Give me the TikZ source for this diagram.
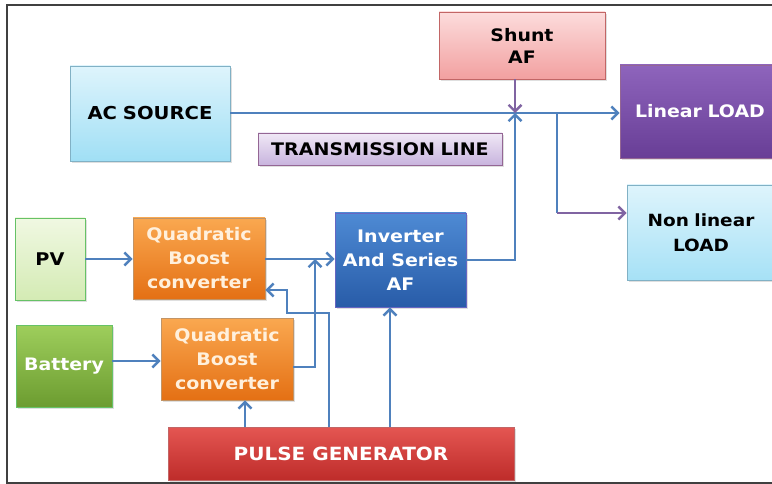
\documentclass[tikz,border=0pt]{standalone}
\usepackage{fontspec}
\setmainfont{DejaVu Sans}[FakeStretch=1.1]
\usetikzlibrary{arrows.meta,shadows}

\definecolor{wire}{RGB}{79,129,189}
\definecolor{pwire}{RGB}{128,100,162}

\tikzset{
  blk/.style={draw=#1!60!black!60, line width=0.8pt, inner sep=0pt, align=center,
    font=\bfseries\fontsize{17.3}{24}\selectfont,
    drop shadow={opacity=0.25, shadow xshift=2pt, shadow yshift=-2pt}},
  tip/.style={-{Straight Barb[length=6.5pt,width=13pt,line width=2.4pt]}},
  arr/.style={draw=wire, line width=2.8pt, tip},
  wireline/.style={draw=wire, line width=2.8pt},
  parr/.style={draw=pwire, line width=2.8pt, tip},
}

\begin{document}
\begin{tikzpicture}[x=1pt, y=-1pt]
\useasboundingbox (0,0) rectangle (772,484);
\fill[white] (0,0) rectangle (772,484);
% outer frame
\draw[black!75, line width=1.2pt] (772,5) -- (7,5) -- (7,483) -- (772,483);

% blocks
\node[blk=cyan, top color={rgb,255:red,222;green,244;blue,252}, bottom color={rgb,255:red,160;green,223;blue,245},
  minimum width=160pt, minimum height=95pt, font=\bfseries\fontsize{17.8}{20}\selectfont] (ac) at (150,113.5) {AC\,\,SOURCE};
\node[blk=violet, top color={rgb,255:red,240;green,232;blue,246}, bottom color={rgb,255:red,200;green,180;blue,222},
  minimum width=244pt, minimum height=32pt, font=\bfseries\fontsize{17.3}{18}\selectfont] (tl) at (380,149) {TRANSMISSION\kern-1pt\ LINE};
\node[blk=red, top color={rgb,255:red,252;green,220;blue,220}, bottom color={rgb,255:red,242;green,160;blue,160},
  minimum width=166pt, minimum height=67pt, font=\bfseries\fontsize{17.2}{22}\selectfont] (sh) at (522,45.5) {Shunt\\AF};
\node[blk=violet, top color={rgb,255:red,142;green,100;blue,188}, bottom color={rgb,255:red,104;green,62;blue,150},
  text=white, minimum width=160pt, minimum height=93pt, font=\bfseries\fontsize{17.2}{20}\selectfont] (lin) at (700,111.5) {Linear\kern-1pt\ LOAD};
\node[blk=cyan, top color={rgb,255:red,222;green,244;blue,252}, bottom color={rgb,255:red,166;green,225;blue,246},
  minimum width=148pt, minimum height=95pt, font=\bfseries\fontsize{16.8}{25}\selectfont] (nl) at (701,232.5) {Non\kern-1pt\ linear\\LOAD};
\node[blk=green, top color={rgb,255:red,240;green,248;blue,226}, bottom color={rgb,255:red,212;green,235;blue,180},
  minimum width=70pt, minimum height=82pt, font=\bfseries\fontsize{17.5}{20}\selectfont] (pv) at (50,259) {PV};
\node[blk=orange, top color={rgb,255:red,250;green,168;blue,80}, bottom color={rgb,255:red,228;green,112;blue,20},
  text={rgb,255:red,255;green,240;blue,220}, minimum width=132pt, minimum height=81pt] (q1) at (199,258.5) {Quadratic\\Boost\\converter};
\node[blk=green, top color={rgb,255:red,158;green,206;blue,92}, bottom color={rgb,255:red,108;green,156;blue,48},
  text=white, minimum width=96pt, minimum height=82pt, font=\bfseries\fontsize{17.2}{20}\selectfont] (bat) at (64,366) {Battery};
\node[blk=orange, top color={rgb,255:red,250;green,168;blue,80}, bottom color={rgb,255:red,228;green,112;blue,20},
  text={rgb,255:red,255;green,240;blue,220}, minimum width=132pt, minimum height=82pt] (q2) at (227,359) {Quadratic\\Boost\\converter};
\node[blk=blue, top color={rgb,255:red,78;green,138;blue,212}, bottom color={rgb,255:red,40;green,92;blue,168},
  text=white, minimum width=131pt, minimum height=94pt] (inv) at (400.5,260) {Inverter\\And Series\\AF};
\node[blk=red, top color={rgb,255:red,228;green,86;blue,82}, bottom color={rgb,255:red,190;green,44;blue,42},
  text=white, minimum width=346pt, minimum height=53pt, font=\bfseries\fontsize{18.2}{20}\selectfont] (pg) at (341,453.5) {PULSE GENERATOR};

% junction points on the transmission line
\coordinate (J) at (515,113);
\coordinate (B) at (557,113);
\coordinate (B2) at (557,213);
\coordinate (M1) at (315,367);
\coordinate (M2) at (315,259);

% main line and loads
\draw[arr] (ac.east |- J) -- (J -| lin.west);
\draw[wireline] (B) -- (B2);
\draw[parr] (B2) -- (B2 -| nl.west);
\draw[parr] (sh.south -| J) -- (J);
\draw[arr] (inv.east) -- (inv.east -| J) -- (J);

% sources and converters
\draw[arr] (pv.east) -- (pv.east -| q1.west);
\draw[arr] ([yshift=5pt]bat.east) -- ([yshift=5pt]bat.east -| q2.west);
\draw[arr] (q1.east |- M2) -- (M2 -| inv.west);
\draw[arr] (q2.east |- M1) -- (M1) -- (M2);

% gate signals from the pulse generator
\draw[arr] ([xshift=18pt]q2.south |- pg.north) -- ([xshift=18pt]q2.south);
\draw[arr] (329,0 |- pg.north) -- (329,313) -- (287,313) -- (287,290) -- (q1.east |- 0,290);
\draw[arr] (390,0 |- pg.north) -- (390,0 |- inv.south);
\end{tikzpicture}
\end{document}
